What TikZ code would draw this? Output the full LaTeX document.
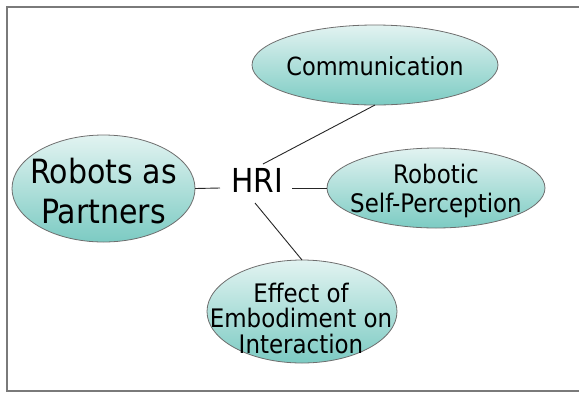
\documentclass[tikz,border=0pt]{standalone}
\usepackage{fontspec}
\setmainfont{DejaVu Sans}[FakeStretch=0.9]
\usetikzlibrary{shapes.geometric}
\definecolor{topc}{HTML}{E2F3F1}
\definecolor{botc}{HTML}{7CCBC3}
\definecolor{edgec}{HTML}{6E6E6E}
\definecolor{framec}{HTML}{7A7A7A}
\tikzset{
  bubble/.style={ellipse, draw=edgec, line width=0.8pt, top color=topc, bottom color=botc,
    inner sep=0pt, outer sep=0pt},
  label/.style={inner sep=0pt, align=center, text=black},
  link/.style={draw=black!85, line width=0.9pt},
  framel/.style={draw=framec, line width=1.4pt}
}
\begin{document}
\begin{tikzpicture}[x=1pt,y=-1pt]
\useasboundingbox (0,0) rectangle (579,392);
\draw[framel] (579,7) -- (7,7) -- (7,392);
\draw[framel] (7,391) -- (579,391);

\node[bubble, minimum width=246pt, minimum height=80pt] (comm) at (375,65) {};
\node[label, font=\fontsize{25}{30}\selectfont] (commt) at (375,66) {Communication};

\node[bubble, minimum width=183pt, minimum height=107pt] (rob) at (103.5,188.5) {};
\node[label, font=\fontsize{33.4}{40}\selectfont] (robt) at (103.5,191) {Robots as\\Partners};

\node[bubble, minimum width=218pt, minimum height=80pt] (self) at (436,188) {};
\node[label, font=\fontsize{25.5}{29}\selectfont] (selft) at (436,191) {Robotic\\Self-Perception};

\node[bubble, minimum width=190pt, minimum height=103pt] (eff) at (302,311.5) {};
\node[label, font=\fontsize{25.5}{25.5}\selectfont] (efft) at (301,318) {Effect of\\Embodiment on\\Interaction};

\node[inner sep=0pt, font=\fontsize{33}{36}\selectfont] (hri) at (257.5,180.5) {HRI};

\draw[link] ([shift={(5.5,-16.5)}]hri.center) -- (comm.south);
\draw[link] ([shift={(-37.5,7.5)}]hri.center) -- (rob.east);
\draw[link] ([shift={(34.5,7.5)}]hri.center) -- (self.west);
\draw[link] ([shift={(-2.5,22.5)}]hri.center) -- (eff.north);
\end{tikzpicture}
\end{document}
